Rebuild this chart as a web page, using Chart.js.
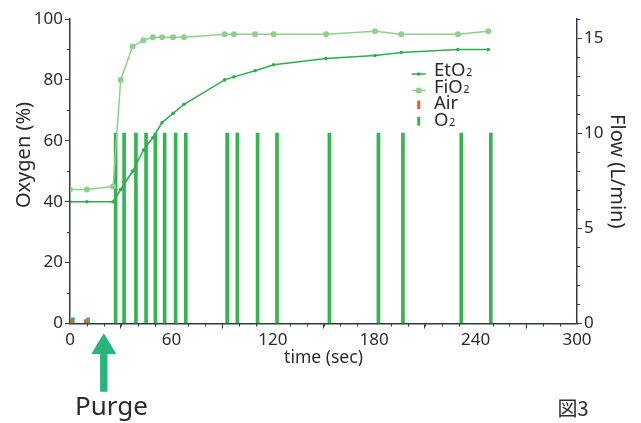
<!DOCTYPE html>
<html>
<head>
<meta charset="utf-8">
<script src="https://cdn.jsdelivr.net/npm/chart.js@4"></script>
<style>
  html, body { margin: 0; padding: 0; background: #fff; }
  canvas { display: block; }
</style>
</head>
<body>
<canvas id="c" width="641" height="423"></canvas>
<script>
// ---- data ----
const seriesNames = ['EtO2', 'FiO2', 'Air', 'O2'];
const times = [0, 10, 25.5, 30, 37, 43.5, 49, 54.5, 61, 67.5, 91.5, 97, 109.5, 120.5, 151.5, 180.5, 196, 229.5, 247.5];
const etO2 = [40, 40, 40, 44, 50, 57, 61, 66, 69, 72, 80, 81, 83, 85, 87, 88, 89, 90, 90];
const fiO2 = [44, 44, 45, 80, 91, 93, 94, 94, 94, 94, 95, 95, 95, 95, 95, 96, 95, 95, 96];
const airTimes = [0.5, 9];
const airFlow = [0.2, 0.2];
const o2Times = [1.7, 10.7, 27, 32, 39, 45, 50.5, 56, 62.5, 68.5, 93, 99, 111, 122.5, 153.5, 182.5, 197, 231.5, 249];
const o2Flow = [0.3, 0.3, 10, 10, 10, 10, 10, 10, 10, 10, 10, 10, 10, 10, 10, 10, 10, 10, 10];
const xTicks = [0, 60, 120, 180, 240, 300];
const xMinorTicks = [10, 20, 30, 40, 50, 70, 80, 90, 100, 110, 130, 140, 150, 160, 170, 190, 200, 210, 220, 230, 250, 260, 270, 280, 290];
const yTicks = [0, 20, 40, 60, 80, 100];
const yMinorTicks = [10, 30, 50, 70, 90];
const flowTicks = [0, 5, 10, 15];
const flowMinorTicks = [1, 2, 3, 4, 6, 7, 8, 9, 11, 12, 13, 14, 16];
const xTitle = 'time (sec)';
const yTitle = 'Oxygen (%)';
const y1Title = 'Flow (L/min)';
const purgeLabel = 'Purge';
const purgeTime = 20;
const figLabel = '図3';

// ---- styles ----
const FONT = "'Noto Sans', 'Noto Sans CJK JP', sans-serif";
const CJK = "'Noto Sans CJK JP', 'Noto Sans', sans-serif";
const AXIS = '#2e3d46';
const TEXT = '#2b2b2b';
const C_ET = '#2bb04a';
const C_FI = '#8fd18c';
const C_AIR = '#f0582b';
const C_O2 = '#34b54f';
const C_ARROW = '#27b57c';

Chart.defaults.font.family = FONT;
Chart.defaults.color = TEXT;

const pts = (xs, ys) => xs.map((x, i) => ({ x: x, y: ys[i] }));

const minorTicksPlugin = {
  id: 'minorTicks',
  afterDraw(chart) {
    const { ctx, scales: { x, y, y1 } } = chart;
    ctx.save();
    ctx.strokeStyle = AXIS;
    ctx.lineWidth = 1;
    ctx.beginPath();
    xMinorTicks.forEach(v => {
      const p = Math.round(x.getPixelForValue(v)) + 0.5;
      ctx.moveTo(p, x.top); ctx.lineTo(p, x.top + 3);
    });
    yMinorTicks.forEach(v => {
      const p = Math.round(y.getPixelForValue(v)) + 0.5;
      ctx.moveTo(y.right, p); ctx.lineTo(y.right - 3, p);
    });
    flowMinorTicks.forEach(v => {
      const p = Math.round(y1.getPixelForValue(v)) + 0.5;
      ctx.moveTo(y1.left, p); ctx.lineTo(y1.left + 3, p);
    });
    ctx.stroke();
    ctx.restore();
  }
};

function drawSubText(ctx, text, x, baseline, size, subSize) {
  let main = text, sub = '';
  if (/2$/.test(text)) { main = text.slice(0, -1); sub = '2'; }
  ctx.font = size + 'px ' + FONT;
  ctx.textBaseline = 'alphabetic';
  ctx.textAlign = 'left';
  ctx.fillText(main, x, baseline);
  if (sub) {
    const w = ctx.measureText(main).width;
    ctx.font = subSize + 'px ' + FONT;
    ctx.fillText(sub, x + w + 0.5, baseline);
  }
}

const legendPlugin = {
  id: 'customLegend',
  afterDraw(chart) {
    const ctx = chart.ctx;
    const textX = 434, base0 = 76, step = 16.5, sx0 = 411.7, sx1 = 425.7, sc = 418.7;
    ctx.save();
    seriesNames.forEach((name, i) => {
      const b = base0 + i * step;
      const ds = chart.data.datasets[i];
      if (i < 2) {
        ctx.strokeStyle = ds.borderColor;
        ctx.lineWidth = 1.5;
        ctx.beginPath(); ctx.moveTo(sx0, b - 2); ctx.lineTo(sx1, b - 2); ctx.stroke();
        ctx.fillStyle = ds.borderColor;
        ctx.beginPath(); ctx.arc(sc, b - 2, i === 0 ? 1.8 : 3, 0, Math.PI * 2); ctx.fill();
      } else {
        ctx.fillStyle = ds.backgroundColor;
        ctx.fillRect(sc - 1.5, b - 8.5, 3, 8.5);
      }
      ctx.fillStyle = TEXT;
      drawSubText(ctx, name, textX, b, 18.5, 11);
    });
    ctx.restore();
  }
};

const annotPlugin = {
  id: 'annot',
  afterDraw(chart) {
    const { ctx, scales: { x } } = chart;
    const ax = x.getPixelForValue(purgeTime);
    ctx.save();
    ctx.fillStyle = C_ARROW;
    ctx.beginPath();
    ctx.moveTo(ax, 333.3);
    ctx.lineTo(ax + 12.5, 354);
    ctx.lineTo(ax + 3.7, 354);
    ctx.lineTo(ax + 3.7, 391.7);
    ctx.lineTo(ax - 3.7, 391.7);
    ctx.lineTo(ax - 3.7, 354);
    ctx.lineTo(ax - 12.5, 354);
    ctx.closePath();
    ctx.fill();
    ctx.fillStyle = TEXT;
    ctx.font = '26px ' + FONT;
    ctx.textAlign = 'left';
    ctx.textBaseline = 'alphabetic';
    ctx.fillText(purgeLabel, 75, 415);
    ctx.font = '20px ' + CJK;
    ctx.fillText(figLabel, 557.5, 416);
    // left axis title
    ctx.translate(24, 155);
    ctx.rotate(-Math.PI / 2);
    ctx.font = '20px ' + FONT;
    ctx.textAlign = 'center';
    ctx.textBaseline = 'middle';
    ctx.fillText(yTitle, 0, 0);
    ctx.restore();
  }
};

const gridOpts = { display: true, drawOnChartArea: false, drawTicks: true, tickLength: 5, color: AXIS, tickWidth: 1 };
const borderOpts = { display: true, color: AXIS, width: 1.5 };

new Chart(document.getElementById('c'), {
  type: 'line',
  data: {
    datasets: [
      { label: seriesNames[0], data: pts(times, etO2), yAxisID: 'y', borderColor: C_ET, backgroundColor: C_ET,
        borderWidth: 1.5, pointRadius: 1.8, pointBorderWidth: 0, pointBackgroundColor: C_ET, tension: 0, order: 0 },
      { label: seriesNames[1], data: pts(times, fiO2), yAxisID: 'y', borderColor: C_FI, backgroundColor: C_FI,
        borderWidth: 1.5, pointRadius: 3, pointBorderWidth: 0, pointBackgroundColor: C_FI, tension: 0, order: 0 },
      { type: 'bar', label: seriesNames[2], data: pts(airTimes, airFlow), yAxisID: 'y1', backgroundColor: C_AIR,
        barThickness: 2, grouped: false, order: 1 },
      { type: 'bar', label: seriesNames[3], data: pts(o2Times, o2Flow), yAxisID: 'y1', backgroundColor: C_O2,
        barThickness: 3, grouped: false, order: 1 }
    ]
  },
  options: {
    responsive: false,
    animation: false,
    devicePixelRatio: 1,
    layout: { padding: { top: 19, left: 0, right: 0, bottom: 0 } },
    plugins: { legend: { display: false }, tooltip: { enabled: false } },
    scales: {
      x: {
        type: 'linear', position: 'bottom', min: 0, max: 300, offset: false,
        afterBuildTicks: s => { s.ticks = xTicks.map(v => ({ value: v })); },
        afterFit: s => { s.height = 99.5; },
        ticks: { font: { size: 17 }, color: TEXT, padding: 1, maxRotation: 0, autoSkip: false },
        grid: gridOpts, border: borderOpts,
        title: { display: true, text: xTitle, font: { size: 17.5 }, color: TEXT, padding: { top: 0, bottom: 54.5 } }
      },
      y: {
        type: 'linear', position: 'left', min: 0, max: 100,
        afterBuildTicks: s => { s.ticks = yTicks.map(v => ({ value: v })); },
        afterFit: s => { s.width = 70; },
        ticks: { font: { size: 17 }, color: TEXT, padding: 2 },
        grid: gridOpts, border: borderOpts,
        title: { display: false }
      },
      y1: {
        type: 'linear', position: 'right', min: 0, max: 16,
        afterBuildTicks: s => { s.ticks = flowTicks.map(v => ({ value: v })); },
        afterFit: s => { s.width = 64; },
        ticks: { font: { size: 17 }, color: TEXT, padding: 2 },
        grid: gridOpts, border: borderOpts,
        title: { display: true, text: y1Title, font: { size: 20 }, color: TEXT, padding: { top: 12, bottom: 0 } }
      }
    }
  },
  plugins: [minorTicksPlugin, legendPlugin, annotPlugin]
});
</script>
</body>
</html>
